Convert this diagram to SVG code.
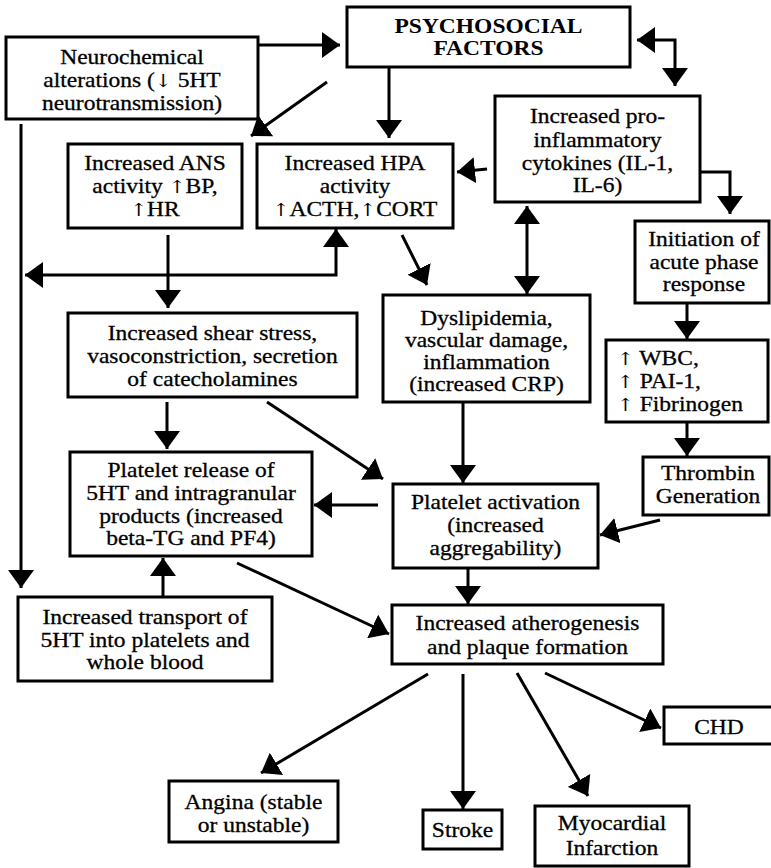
<svg xmlns="http://www.w3.org/2000/svg" width="771" height="868" viewBox="0 0 771 868">
<style>
.box{fill:#fff;stroke:#000;stroke-width:3}
text{font-family:'Liberation Serif','Times New Roman',Times,'DejaVu Serif',serif;font-size:21px;font-weight:normal;text-anchor:middle;fill:#000;stroke:#000;stroke-width:0.3px}
text.b{font-weight:bold;stroke-width:0}
text.l{text-anchor:start}
tspan.ar{font-family:'DejaVu Serif',serif;font-size:18px;stroke-width:0}
.c{fill:none;stroke:#000;stroke-width:3}
</style>
<defs>
<marker id="ah" viewBox="0 0 18 26" refX="18" refY="13" markerWidth="18" markerHeight="26" markerUnits="userSpaceOnUse" orient="auto-start-reverse"><path d="M0,0L18,13L0,26Z" fill="#000"/></marker>
</defs>
<rect width="771" height="868" fill="#fff"/>
<g id="connectors">
<path class="c" d="M258,45H340" marker-end="url(#ah)"/>
<path class="c" d="M327,82L251,136" marker-end="url(#ah)"/>
<path class="c" d="M389,67V138" marker-end="url(#ah)"/>
<path class="c" d="M637,40H675V86" marker-start="url(#ah)" marker-end="url(#ah)"/>
<path class="c" d="M487,169L457,172" marker-end="url(#ah)"/>
<path class="c" d="M700,172H730V214" marker-end="url(#ah)"/>
<path class="c" d="M527,206V294" marker-start="url(#ah)" marker-end="url(#ah)"/>
<path class="c" d="M402,235L427,285" marker-end="url(#ah)"/>
<path class="c" d="M168,235V308" marker-end="url(#ah)"/>
<path class="c" d="M336,229V275H25" marker-start="url(#ah)" marker-end="url(#ah)"/>
<path class="c" d="M21,124V588" marker-end="url(#ah)"/>
<path class="c" d="M167,402V449" marker-end="url(#ah)"/>
<path class="c" d="M267,402L383,479" marker-end="url(#ah)"/>
<path class="c" d="M463,402V483" marker-end="url(#ah)"/>
<path class="c" d="M378,505H314" marker-end="url(#ah)"/>
<path class="c" d="M660,520L600,535" marker-end="url(#ah)"/>
<path class="c" d="M468,568V604" marker-end="url(#ah)"/>
<path class="c" d="M237,563L389,634" marker-end="url(#ah)"/>
<path class="c" d="M163,597V558" marker-end="url(#ah)"/>
<path class="c" d="M687,303V339" marker-end="url(#ah)"/>
<path class="c" d="M687,423V456" marker-end="url(#ah)"/>
<path class="c" d="M428,674L261,773" marker-end="url(#ah)"/>
<path class="c" d="M463,674V809" marker-end="url(#ah)"/>
<path class="c" d="M517,673L588,796" marker-end="url(#ah)"/>
<path class="c" d="M545,673L661,728" marker-end="url(#ah)"/>
</g>
<g id="psychosocial"><rect class="box" x="347" y="7" width="283" height="60"/>
<g transform="matrix(1.12 0 0 1 -58.62 0)"><text class="b" x="488.5" y="33">PSYCHOSOCIAL</text><text class="b" x="488.5" y="55">FACTORS</text></g></g>
<g id="neurochemical"><rect class="box" x="6" y="37" width="252" height="82"/>
<g transform="matrix(1.12 0 0 1 -15.84 0)"><text x="132" y="64">Neurochemical</text><text x="132" y="87">alterations (<tspan class="ar">↓</tspan> 5HT</text><text x="132" y="110">neurotransmission)</text></g></g>
<g id="ans"><rect class="box" x="68" y="144" width="174" height="84"/>
<g transform="matrix(1.12 0 0 1 -18.6 0)"><text x="155" y="170">Increased ANS</text><text x="155" y="193">activity <tspan class="ar">↑</tspan>BP,</text><text x="155" y="216"><tspan class="ar">↑</tspan>HR</text></g></g>
<g id="hpa"><rect class="box" x="257" y="144" width="196" height="84"/>
<g transform="matrix(1.12 0 0 1 -42.6 0)"><text x="355" y="170">Increased HPA</text><text x="355" y="193">activity</text><text x="355" y="216"><tspan class="ar">↑</tspan>ACTH,<tspan class="ar">↑</tspan>CORT</text></g></g>
<g id="cytokines"><rect class="box" x="495" y="96" width="205" height="106"/>
<g transform="matrix(1.12 0 0 1 -71.7 0)"><text x="597.5" y="123">Increased pro-</text><text x="597.5" y="147">inflammatory</text><text x="597.5" y="170">cytokines (IL-1,</text><text x="597.5" y="192">IL-6)</text></g></g>
<g id="initiation"><rect class="box" x="635" y="221" width="134" height="82"/>
<g transform="matrix(1.12 0 0 1 -84.48 0)"><text x="704" y="246">Initiation of</text><text x="704" y="269">acute phase</text><text x="704" y="291">response</text></g></g>
<g id="wbc"><rect class="box" x="606" y="340" width="162" height="82"/>
<g transform="matrix(1.12 0 0 1 -74.04 0)"><text class="l" x="617" y="365"><tspan class="ar">↑</tspan> WBC,</text><text class="l" x="617" y="388"><tspan class="ar">↑</tspan> PAI-1,</text><text class="l" x="617" y="411"><tspan class="ar">↑</tspan> Fibrinogen</text></g></g>
<g id="thrombin"><rect class="box" x="643" y="457" width="126" height="58"/>
<g transform="matrix(1.12 0 0 1 -84.96 0)"><text x="708" y="480">Thrombin</text><text x="708" y="503">Generation</text></g></g>
<g id="dyslipidemia"><rect class="box" x="383" y="295" width="207" height="107"/>
<g transform="matrix(1.12 0 0 1 -58.38 0)"><text x="486.5" y="325">Dyslipidemia,</text><text x="486.5" y="347">vascular damage,</text><text x="486.5" y="369">inflammation</text><text x="486.5" y="391">(increased CRP)</text></g></g>
<g id="shear"><rect class="box" x="68" y="313" width="289" height="84"/>
<g transform="matrix(1.12 0 0 1 -25.5 0)"><text x="212.5" y="340">Increased shear stress,</text><text x="212.5" y="363">vasoconstriction, secretion</text><text x="212.5" y="386">of catecholamines</text></g></g>
<g id="release"><rect class="box" x="70" y="452" width="242" height="104"/>
<g transform="matrix(1.12 0 0 1 -22.92 0)"><text x="191" y="477">Platelet release of</text><text x="191" y="500">5HT and intragranular</text><text x="191" y="523">products (increased</text><text x="191" y="545">beta-TG and PF4)</text></g></g>
<g id="activation"><rect class="box" x="393" y="484" width="205" height="84"/>
<g transform="matrix(1.12 0 0 1 -59.46 0)"><text x="495.5" y="509">Platelet activation</text><text x="495.5" y="532">(increased</text><text x="495.5" y="555">aggregability)</text></g></g>
<g id="transport"><rect class="box" x="18" y="597" width="254" height="84"/>
<g transform="matrix(1.12 0 0 1 -17.4 0)"><text x="145" y="624">Increased transport of</text><text x="145" y="647">5HT into platelets and</text><text x="145" y="669">whole blood</text></g></g>
<g id="atherogenesis"><rect class="box" x="392" y="605" width="271" height="59"/>
<g transform="matrix(1.12 0 0 1 -63.3 0)"><text x="527.5" y="630">Increased atherogenesis</text><text x="527.5" y="654">and plaque formation</text></g></g>
<g id="chd"><rect class="box" x="664" y="707" width="120" height="37"/>
<g transform="matrix(1.12 0 0 1 -86.28 0)"><text x="719" y="734">CHD</text></g></g>
<g id="angina"><rect class="box" x="169" y="781" width="169" height="61"/>
<g transform="matrix(1.12 0 0 1 -30.42 0)"><text x="253.5" y="809">Angina (stable</text><text x="253.5" y="832">or unstable)</text></g></g>
<g id="stroke"><rect class="box" x="423" y="810" width="79" height="39"/>
<g transform="matrix(1.12 0 0 1 -55.5 0)"><text x="462.5" y="837">Stroke</text></g></g>
<g id="mi"><rect class="box" x="535" y="806" width="154" height="60"/>
<g transform="matrix(1.12 0 0 1 -73.44 0)"><text x="612" y="830">Myocardial</text><text x="612" y="855">Infarction</text></g></g>
</svg>
